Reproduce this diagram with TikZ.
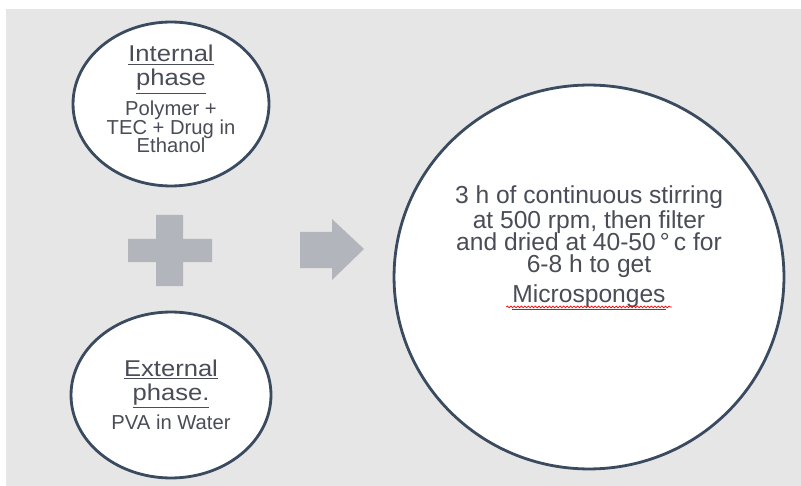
\documentclass[tikz,border=0pt]{standalone}
\usepackage{fontspec}
\setmainfont{Liberation Sans}
\newfontfamily\headfont[FakeStretch=1.12]{Liberation Sans}
\usetikzlibrary{shapes.geometric,decorations.pathmorphing}
\definecolor{ringcol}{HTML}{3B4B5F}
\definecolor{txtcol}{HTML}{4A4D57}
\definecolor{signcol}{HTML}{B3B5BC}
\definecolor{backcol}{HTML}{E6E6E6}
\tikzset{
  phase/.style={ellipse, draw=ringcol, line width=1.6pt, fill=white, inner sep=0pt},
  head/.style={anchor=base, text=txtcol, font=\headfont\fontsize{13}{14}\selectfont},
  body/.style={anchor=base, text=txtcol, font=\fontsize{11.5}{12}\selectfont},
  big/.style={anchor=base, text=txtcol, font=\fontsize{14}{15}\selectfont}
}
\begin{document}
\begin{tikzpicture}[x=0.02cm, y=-0.02cm]
  \useasboundingbox (0,0) rectangle (801,486);
  \fill[backcol] (6,9) rectangle (801,486);
  % the three rings
  \node[phase, minimum width=3.92cm, minimum height=3.28cm] (internal) at (171,104) {};
  \node[phase, minimum width=4cm, minimum height=3.32cm] (external) at (171,395) {};
  \node[phase, minimum width=7.8cm, minimum height=7.68cm] (process) at (589,277) {};
  % plus and arrow
  \fill[signcol] (128,239) -- (156,239) -- (156,215) -- (183,215) -- (183,239) -- (212,239)
    -- (212,262) -- (183,262) -- (183,286) -- (156,286) -- (156,262) -- (128,262) -- cycle;
  \fill[signcol] (300,232) -- (332,232) -- (332,219) -- (364,249) -- (332,280) -- (332,268)
    -- (300,268) -- cycle;
  % internal phase
  \node[head] (ih1) at (171,62) {\underline{Internal}};
  \node[head] (ih2) at (171,86) {\underline{phase}};
  \node[body] (ib1) at (171,116) {Polymer +};
  \node[body] (ib2) at (171,135) {TEC + Drug in};
  \node[body] (ib3) at (171,153) {Ethanol};
  % external phase
  \node[head] (eh1) at (171,376) {\underline{External}};
  \node[head] (eh2) at (171,400) {\underline{phase.}};
  \node[body] (eb1) at (171,429) {PVA in Water};
  % process
  \node[big] (p1) at (589,204) {3 h of continuous stirring};
  \node[big] (p2) at (589,229) {at 500 rpm, then filter};
  \node[big] (p3) at (589,251) {and dried at 40-50\,\textdegree\,c for};
  \node[big] (p4) at (589,273) {6-8 h to get};
  \node[big] (p5) at (589,302) {\underline{Microsponges}};
  \draw[red, line width=0.4pt, decorate, decoration={snake, amplitude=0.5pt, segment length=2pt}]
    ([yshift=-2.8pt]p5.base west) -- ([yshift=-2.8pt]p5.base east);
\end{tikzpicture}
\end{document}
